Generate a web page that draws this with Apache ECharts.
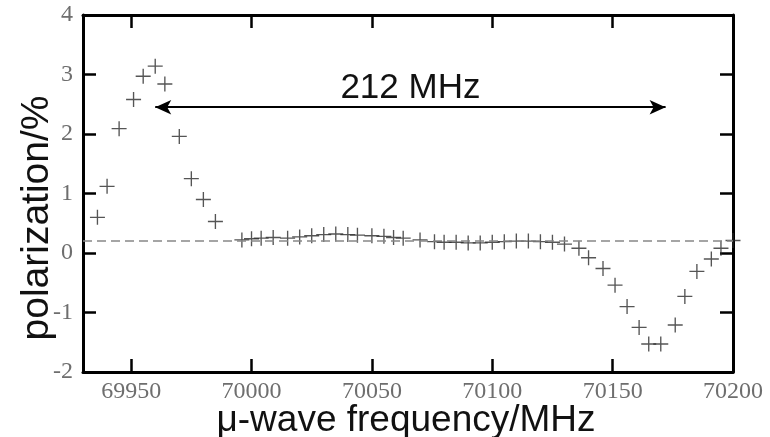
<!DOCTYPE html>
<html>
<head>
<meta charset="utf-8">
<script src="https://cdn.jsdelivr.net/npm/echarts@6/dist/echarts.min.js"></script>
<style>
html, body { margin: 0; padding: 0; background: #fff; }
#chart { width: 770px; height: 437px; }
</style>
</head>
<body>
<div id="chart"></div>
<script>
// measured points (frequency in MHz, polarization in %)
var freq = [69936, 69940, 69945, 69951, 69955, 69960, 69964, 69970, 69975, 69980, 69985,
	69996, 70000, 70004, 70009, 70015, 70020, 70025, 70030, 70035, 70040, 70044, 70050,
	70055, 70059, 70063, 70070, 70076, 70080, 70085, 70090, 70095, 70100, 70105, 70110,
	70115, 70120, 70125, 70130, 70136, 70140, 70146, 70151, 70156, 70161, 70165, 70170,
	70176, 70180, 70185, 70191, 70195, 70200];
var polar = [0.60, 1.12, 2.09, 2.58, 2.97, 3.14, 2.84, 1.96, 1.25, 0.90, 0.53,
	0.22, 0.24, 0.25, 0.26, 0.25, 0.27, 0.29, 0.31, 0.32, 0.31, 0.30, 0.29,
	0.28, 0.26, 0.25, 0.22, 0.19, 0.18, 0.18, 0.17, 0.17, 0.18, 0.19, 0.20,
	0.20, 0.19, 0.18, 0.15, 0.08, -0.08, -0.26, -0.54, -0.90, -1.25, -1.53, -1.53,
	-1.21, -0.73, -0.31, -0.10, 0.08, 0.21];
var xTicks = [69950, 70000, 70050, 70100, 70150, 70200];
var baseLevel = 0.2;
var arrowFrom = 69960, arrowTo = 70172, arrowY = 2.45;
var arrowText = '212 MHz';
var xName = 'μ-wave frequency/MHz';
var yName = 'polarization/%';

var points = [];
for (var i = 0; i < freq.length; i++) {
	points.push([freq[i], polar[i]]);
}

var plus = 'path://M0,4.55H10V5.45H0Z M4.55,0H5.45V10H4.55Z';
var serif = 'Liberation Serif';
var sans = 'Liberation Sans';
var axisLine = { show: true, onZero: false, lineStyle: { color: '#000', width: 3 } };
var tickStyle = { color: '#000', width: 2.5 };

var dom = document.getElementById('chart');
var myChart = echarts.init(dom);
var option = {
	animation: false,
	grid: { left: 83, right: 37, top: 15, bottom: 65 },
	graphic: [{
		type: 'text',
		x: 37, y: 218,
		rotation: Math.PI / 2,
		style: { text: yName, fontFamily: sans, fontSize: 39, fill: '#111',
			align: 'center', verticalAlign: 'middle' }
	}, {
		type: 'text',
		x: 406, y: 421,
		style: { text: xName, fontFamily: sans, fontSize: 37, fill: '#111',
			align: 'center', verticalAlign: 'middle' }
	}],
	xAxis: [{
		type: 'value',
		min: 69930,
		max: 70200,
		position: 'bottom',
		axisLine: axisLine,
		axisTick: { show: true, inside: true, length: 13, customValues: xTicks, lineStyle: tickStyle },
		axisLabel: { customValues: xTicks, fontFamily: serif, fontSize: 24, color: '#6e6e6e', margin: 8,
			formatter: function (v) { return String(v); } },
		splitLine: { show: false }
	}, {
		type: 'value',
		min: 69930,
		max: 70200,
		position: 'top',
		axisLine: axisLine,
		axisTick: { show: true, inside: true, length: 13, customValues: xTicks, lineStyle: tickStyle },
		axisLabel: { show: false },
		splitLine: { show: false }
	}],
	yAxis: [{
		type: 'value',
		min: -2,
		max: 4,
		interval: 1,
		position: 'left',
		axisLine: axisLine,
		axisTick: { show: true, inside: true, length: 13, lineStyle: tickStyle },
		axisLabel: { fontFamily: serif, fontSize: 24, color: '#6e6e6e', margin: 10 },
		splitLine: { show: false }
	}, {
		type: 'value',
		min: -2,
		max: 4,
		interval: 1,
		position: 'right',
		axisLine: axisLine,
		axisTick: { show: true, inside: true, length: 13, lineStyle: tickStyle },
		axisLabel: { show: false },
		splitLine: { show: false }
	}],
	series: [{
		type: 'scatter',
		xAxisIndex: 0,
		yAxisIndex: 0,
		symbol: plus,
		symbolSize: 15,
		itemStyle: { color: '#2a2a2a' },
		data: points,
		markLine: {
			silent: true,
			data: [
				[{ coord: [69930, baseLevel], symbol: 'none' },
				 { coord: [70200, baseLevel], symbol: 'none' }],
				[{ coord: [arrowFrom, arrowY], symbol: 'arrow', symbolSize: [11, 16],
					lineStyle: { type: 'solid', color: '#000', width: 2 },
					label: { show: true, position: 'middle', formatter: arrowText,
						fontFamily: sans, fontSize: 35, color: '#111', distance: 1 } },
				 { coord: [arrowTo, arrowY], symbol: 'arrow', symbolSize: [11, 16] }]
			],
			lineStyle: { type: [9, 5], color: '#888', width: 1.5 },
			label: { show: false }
		}
	}]
};
if (option && typeof option === 'object') {
	myChart.setOption(option, true);
}
</script>
</body>
</html>
